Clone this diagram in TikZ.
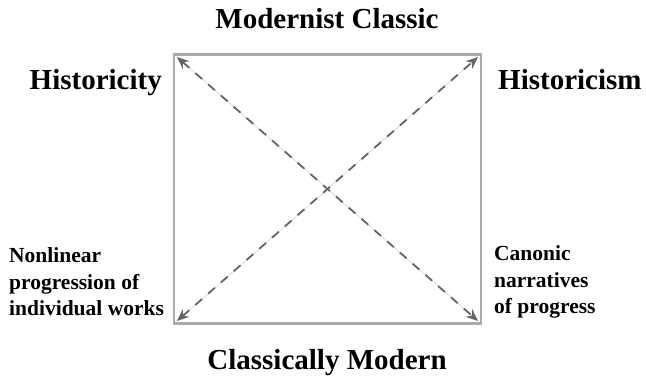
\documentclass[tikz,border=0pt]{standalone}
\usepackage{fontspec}
\setmainfont{Liberation Serif}
\usepackage{tikz}
\usetikzlibrary{positioning,arrows.meta}
\usepackage{xcolor}
\definecolor{boxgray}{RGB}{170,170,170}
\definecolor{lightline}{RGB}{215,215,215}
\definecolor{dashgray}{RGB}{100,100,100}

\begin{document}
\begin{tikzpicture}[x=1pt,y=-1pt,every node/.style={font=\bfseries,inner sep=0pt},
  bigtext/.style={font=\fontsize{29}{34}\selectfont\bfseries},
  smalltext/.style={font=\fontsize{21.5}{26.5}\selectfont\bfseries,align=left,anchor=west},
  boxline/.style={draw=boxgray,line width=2.6pt},
  guide/.style={draw=lightline,line width=0.7pt},
  dashline/.style={draw=dashgray,line width=1.8pt,dash pattern=on 9pt off 8pt,
    {Stealth[length=12pt,width=10pt]}-{Stealth[length=12pt,width=10pt]}}]
\useasboundingbox (0,0) rectangle (646,380);
\coordinate (tl) at (174,54.5);
\coordinate (br) at (481,323.5);
\draw[boxline] (tl) rectangle (br);
\coordinate (atl) at (177,57);
\coordinate (atr) at (478,57);
\coordinate (abl) at (177,321);
\coordinate (abr) at (478,321);
\draw[guide] (atl) -- (abr);
\draw[guide] (abl) -- (atr);
\draw[dashline] (atl) -- (abr);
\draw[dashline] (abl) -- (atr);
\node[bigtext,anchor=base] (top) at (327,28) {Modernist Classic};
\node[bigtext,anchor=base] (bottom) at (327,369) {Classically Modern};
\node[bigtext,anchor=base east] (left) at (162,89) {Historicity};
\node[bigtext,anchor=base west] (right) at (498,89) {Historicism};
\node[smalltext] (lnote) at (9,282) {Nonlinear\\progression of\\individual works};
\node[smalltext] (rnote) at (494,282) {Canonic\\narratives\\of progress};
\end{tikzpicture}
\end{document}
